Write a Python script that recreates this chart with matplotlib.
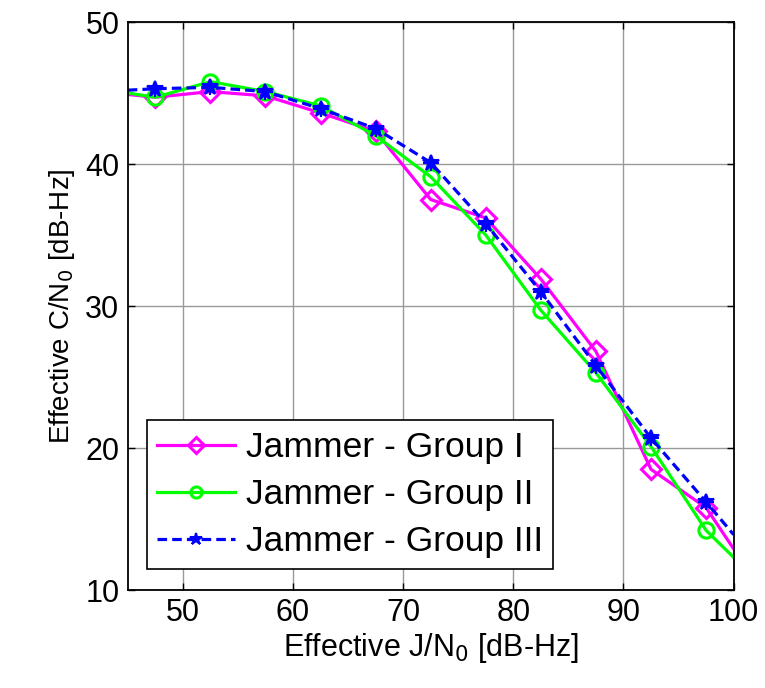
import matplotlib
matplotlib.use("Agg")
import matplotlib.pyplot as plt
from matplotlib.lines import Line2D

plt.rcParams['font.family'] = ['Liberation Sans', 'DejaVu Sans']

x = [45, 47.5, 52.5, 57.5, 62.5, 67.5, 72.5, 77.5, 82.5, 87.5, 92.5, 97.5, 100]
g1 = [44.9, 44.7, 45.1, 44.8, 43.6, 42.3, 37.5, 36.2, 31.9, 26.8, 18.5, 15.8, 12.9]
g2 = [45.0, 44.7, 45.8, 45.1, 44.1, 42.0, 39.1, 35.0, 29.7, 25.3, 20.1, 14.2, 12.3]
g3 = [45.2, 45.3, 45.4, 45.1, 43.9, 42.5, 40.1, 35.8, 31.0, 25.8, 20.7, 16.2, 13.9]
labels = ['Jammer - Group I', 'Jammer - Group II', 'Jammer - Group III']
xticks = [50, 60, 70, 80, 90, 100]
yticks = [10, 20, 30, 40, 50]

fig = plt.figure(figsize=(7.65, 6.88), dpi=100)
ax = fig.add_axes([0.167, 0.1424, 0.792, 0.8256])

mk = slice(1, -1)
dash = (0, (3, 1.6))
ax.plot(x, g1, color='#ff00ff', lw=2.3)
ax.plot(x[mk], g1[mk], 'D', color='#ff00ff', mfc='none', ms=10, mew=2.2, ls='none')
ax.plot(x, g2, color='#00ff00', lw=2.3)
ax.plot(x[mk], g2[mk], 'o', color='#00ff00', mfc='none', ms=11, mew=2.2, ls='none')
ax.plot(x, g3, color='#0000ff', lw=2.3, ls=dash)
ax.plot(x[mk], g3[mk], '*', color='#0000ff', ms=12, mew=1.5, ls='none')
ax.plot(x[mk], g3[mk], '+', color='#0000ff', ms=12, mew=1.5, ls='none')

h = [Line2D([], [], color='#ff00ff', lw=2.3, marker='D', mfc='none', ms=8, mew=2.2),
     Line2D([], [], color='#00ff00', lw=2.3, marker='o', mfc='none', ms=8, mew=2.2),
     Line2D([], [], color='#0000ff', lw=2.3, ls=dash, marker='*', ms=9, mew=1.5)]
leg = ax.legend(h, labels, loc='lower left', bbox_to_anchor=(0.031, 0.037),
                borderaxespad=0, fontsize=25.5, frameon=True, fancybox=False,
                handlelength=2.2, handletextpad=0.3, labelspacing=0.4,
                borderpad=0.3)
leg.get_frame().set_edgecolor('black')
leg.get_frame().set_linewidth(1.2)
leg.get_frame().set_alpha(1)

ax.set_xlim(45, 100)
ax.set_ylim(10, 50)
ax.set_xticks(xticks)
ax.set_yticks(yticks)
ax.grid(True, color='#999999', lw=1.0)
ax.tick_params(direction='in', labelsize=22, length=5, width=1, top=True, right=True, pad=6)
for s in ax.spines.values():
    s.set_linewidth(1.3)
ax.set_xlabel('Effective J/N$_0$ [dB-Hz]', fontsize=22, labelpad=2)
ax.set_ylabel('Effective C/N$_0$ [dB-Hz]', fontsize=20, labelpad=6)

fig.savefig('out.png', dpi=100)
